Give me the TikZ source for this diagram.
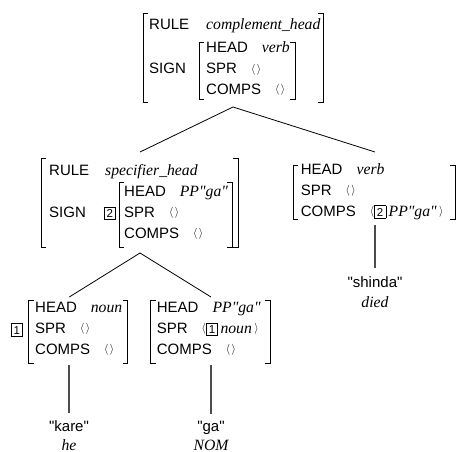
\documentclass[tikz,border=0pt]{standalone}
\usepackage{fontspec}
\newfontfamily\featfont{Liberation Sans}
\newfontfamily\valfont{Liberation Serif}
\newcommand{\avmfont}{\featfont\fontsize{15}{17}\selectfont}
\newcommand{\val}[1]{{\valfont\itshape\fontsize{15.7}{17}\selectfont #1}}
\newcommand{\angl}{\raisebox{1.5pt}{\fontsize{11}{11}\selectfont$\langle$}}
\newcommand{\angr}{\raisebox{1.5pt}{\fontsize{11}{11}\selectfont$\rangle$}}
\newcommand{\emptylist}{\angl\hspace{1.5pt}\angr}
\newcommand{\tagbox}[1]{{\setlength{\fboxsep}{1.6pt}\setlength{\fboxrule}{0.6pt}%
  \fbox{\fontsize{11.5}{11.5}\selectfont\makebox[7.6pt]{\rule[-0.4pt]{0pt}{9pt}#1}}}}
\newcommand{\fgap}{\hspace{14pt}}
% left and right bracket of one feature structure
\newcommand{\avmbrackets}[4]{%
  \draw[avmline] (#1+5,#3) -- (#1,#3) -- (#1,#4) -- (#1+5,#4);
  \draw[avmline] (#2-5,#3) -- (#2,#3) -- (#2,#4) -- (#2-5,#4);}

\begin{document}
\begin{tikzpicture}[x=1pt,y=-1pt,
  feat/.style={anchor=base west,inner sep=0pt,font=\avmfont},
  word/.style={anchor=base,inner sep=0pt,font=\avmfont},
  avmline/.style={line width=0.7pt},
  branch/.style={line width=0.8pt},
  stem/.style={line width=1.1pt,black!70,shorten >=7.5pt}]
\useasboundingbox (0,0) rectangle (458,452);

% complement_head
\avmbrackets{143}{323}{13}{102}
\avmbrackets{199}{295}{42}{99}
\node[feat] (rule-ch) at (149,30) {RULE\hspace{17pt}\val{complement\_head}};
\node[feat] (sign-ch) at (149,73.7) {SIGN};
\node[feat] (head-ch) at (206,53) {HEAD\fgap\val{verb}};
\node[feat] (spr-ch) at (206,73.7) {SPR\fgap\emptylist};
\node[feat] (comps-ch) at (206,94.4) {COMPS\fgap\emptylist};
\coordinate (ch-foot) at (233,107);

% specifier_head
\avmbrackets{41}{238}{158}{247}
\avmbrackets{119}{232}{182}{247}
\node[feat] (rule-sh) at (49,175) {RULE\hspace{16pt}\val{specifier\_head}};
\node[feat] (sign-sh) at (49,217.4) {SIGN};
\node[feat] (tag-sh) at (103.5,217.4) {\tagbox{2}};
\node[feat] (head-sh) at (124,196.7) {HEAD\fgap\val{PP"ga"}};
\node[feat] (spr-sh) at (124,217.4) {SPR\fgap\emptylist};
\node[feat] (comps-sh) at (124,238.1) {COMPS\fgap\emptylist};
\coordinate (sh-top) at (140,152);
\coordinate (sh-foot) at (140,253);

% verb
\avmbrackets{293}{455}{165}{219}
\node[feat] (head-v) at (300.7,174) {HEAD\fgap\val{verb}};
\node[feat] (spr-v) at (300.7,195) {SPR\fgap\emptylist};
\node[feat] (comps-v) at (300.7,216) {COMPS\fgap\angl\tagbox{2}\,\val{PP"ga"}\,\angr};
\coordinate (v-top) at (375,152);
\coordinate (v-foot) at (375,225);
\node[word] (shinda) at (375,287) {"shinda"};
\node[word] (died) at (375,307.3) {\val{died}};

% noun
\node[feat] (tag-n) at (10.5,334) {\tagbox{1}};
\avmbrackets{28.5}{127.7}{300}{363.3}
\node[feat] (head-n) at (35,312.3) {HEAD\fgap\val{noun}};
\node[feat] (spr-n) at (35,333.3) {SPR\fgap\emptylist};
\node[feat] (comps-n) at (35,354.3) {COMPS\fgap\emptylist};
\coordinate (n-top) at (69.3,297);
\coordinate (n-foot) at (69,365);
\node[word] (kare) at (69,431.7) {"kare"};
\node[word] (he) at (69,450) {\val{he}};

% PP"ga"
\avmbrackets{150.7}{270}{300}{363.3}
\node[feat] (head-p) at (156.7,312.3) {HEAD\fgap\val{PP"ga"}};
\node[feat] (spr-p) at (156.7,333.3) {SPR\fgap\angl\tagbox{1}\,\val{noun}\,\angr};
\node[feat] (comps-p) at (156.7,354.3) {COMPS\fgap\emptylist};
\coordinate (p-top) at (211,297);
\coordinate (p-foot) at (211,365);
\node[word] (ga) at (211,431.7) {"ga"};
\node[word] (nom) at (211,450) {\val{NOM}};

% tree
\draw[branch] (sh-top) -- (ch-foot) -- (v-top);
\draw[branch] (n-top) -- (sh-foot) -- (p-top);
\draw[stem] (v-foot) -- (shinda.north);
\draw[stem] (n-foot) -- (kare.north);
\draw[stem] (p-foot) -- (ga.north);
\end{tikzpicture}
\end{document}
